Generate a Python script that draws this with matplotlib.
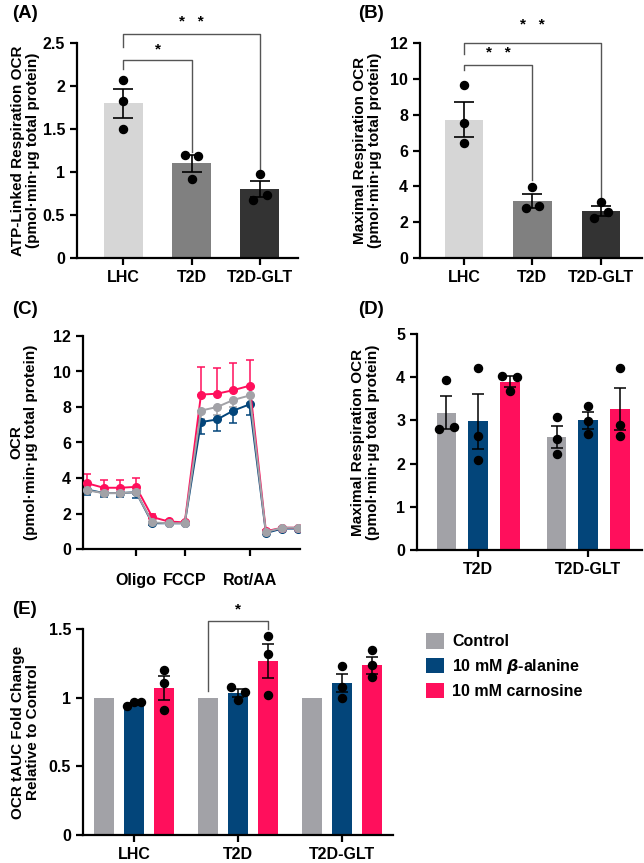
import numpy as np
import matplotlib.pyplot as plt

plt.rcParams['font.family'] = ['Liberation Sans', 'DejaVu Sans']
plt.rcParams['font.weight'] = 'bold'
plt.rcParams['axes.labelweight'] = 'bold'

# ---- data ----
groups_abc = ["LHC", "T2D", "T2D-GLT"]

atp_mean = [1.80, 1.10, 0.80]
atp_sem = [0.17, 0.095, 0.09]
atp_pts = [[2.07, 1.82, 1.50], [1.20, 1.19, 0.92], [0.98, 0.68, 0.73]]

max_mean = [7.72, 3.20, 2.63]
max_sem = [0.97, 0.40, 0.28]
max_pts = [[9.64, 7.53, 6.42], [3.96, 2.81, 2.88], [3.13, 2.23, 2.57]]

treat = ["Control", "10 mM $\\beta$-alanine", "10 mM carnosine"]
treat_col = ["#a2a2a7", "#03457a", "#ff0f5c"]

# panel C time course (14 measurements)
ocr_ctrl = [3.30, 3.15, 3.15, 3.20, 1.50, 1.45, 1.45, 7.80, 8.00, 8.40, 8.65, 0.95, 1.20, 1.20]
ocr_ctrl_err = [0.15, 0.12, 0.12, 0.12, 0.08, 0.06, 0.06, 0.45, 0.45, 0.40, 0.40, 0.05, 0.05, 0.05]
ocr_bala = [3.35, 3.15, 3.15, 3.20, 1.45, 1.45, 1.45, 7.15, 7.30, 7.80, 8.15, 0.90, 1.15, 1.15]
ocr_bala_err = [0.30, 0.20, 0.20, 0.30, 0.08, 0.06, 0.06, 0.65, 0.65, 0.70, 0.60, 0.05, 0.05, 0.05]
ocr_carn = [3.70, 3.45, 3.45, 3.50, 1.80, 1.55, 1.50, 8.70, 8.75, 8.95, 9.20, 1.00, 1.20, 1.20]
ocr_carn_err = [0.50, 0.45, 0.45, 0.50, 0.20, 0.08, 0.08, 1.55, 1.45, 1.55, 1.45, 0.05, 0.05, 0.05]
inject = ["Oligo", "FCCP", "Rot/AA"]
inject_at = [4, 7, 11]

# panel D
groups_d = ["T2D", "T2D-GLT"]
d_mean = [[3.18, 2.98, 3.90], [2.62, 3.00, 3.26]]
d_sem = [[0.38, 0.64, 0.12], [0.26, 0.20, 0.49]]
d_pts = [[[3.93, 2.79, 2.84], [4.21, 2.63, 2.09], [4.03, 4.00, 3.69]],
         [[3.09, 2.57, 2.22], [3.34, 2.98, 2.69], [4.21, 2.90, 2.65]]]

# panel E
e_mean = [[1.0, 0.955, 1.07], [1.0, 1.035, 1.265], [1.0, 1.105, 1.235]]
e_sem = [[0.0, 0.008, 0.09], [0.0, 0.03, 0.125], [0.0, 0.065, 0.06]]
e_pts = [[None, [0.94, 0.965, 0.965], [1.20, 1.11, 0.91]],
         [None, [1.08, 1.04, 0.985], [1.45, 1.32, 1.02]],
         [None, [1.23, 1.08, 1.00], [1.35, 1.24, 1.15]]]

# scatter spread (-1 left, 0 centre, 1 right) for overlapping dots
spread_a = [[0, 0, 0], [-1, 1, 0], [0, -1, 1]]
spread_b = [[0, 0, 0], [0, -1, 1], [0, -1, 1]]
spread_d = [[[0, -1, 1], [0, 0, 0], [-1, 1, 0]], [[0, 0, 0], [0, 0, 0], [0, 0, 0]]]
spread_e = [[None, [-1, 0, 1], [0, 0, 0]], [None, [-1, 1, 0], [0, 0, 0]], [None, [0, 0, 0], [0, 0, 0]]]

W, H = 644, 863
fig = plt.figure(figsize=(W / 100, H / 100), dpi=100)


def add_ax(l, t, r, b):
    return fig.add_axes([l / W, 1 - b / H, (r - l) / W, (b - t) / H])


def style(ax):
    for s in ["top", "right"]:
        ax.spines[s].set_visible(False)
    for s in ["left", "bottom"]:
        ax.spines[s].set_linewidth(1.6)
    ax.tick_params(width=1.6, length=5, labelsize=11.5)
    for lab in ax.get_xticklabels() + ax.get_yticklabels():
        lab.set_fontweight("bold")


def dots(ax, x, pts, spread, step):
    for v, s in zip(pts, spread):
        ax.plot(x + s * step, v, "o", color="black", ms=5.8, zorder=5)


def bracket(ax, x1, x2, y, yl, yr, text, ty):
    ax.plot([x1, x1, x2, x2], [yl, y, y, yr], color="#555555", lw=1.0, clip_on=False)
    ax.text((x1 + x2) / 2, ty, text, ha="center", va="center", fontsize=11, clip_on=False)


ylab_units = "(pmol·min·µg total protein)"
ylab_kw = dict(fontsize=11, linespacing=1.1)

# ---- (A) ----
axA = add_ax(77, 43, 298, 258)
colsA = ["#d6d6d6", "#808080", "#333333"]
for i in range(3):
    axA.bar(i, atp_mean[i], 0.57, color=colsA[i], zorder=1)
    axA.errorbar(i, atp_mean[i], yerr=atp_sem[i], color="black", capsize=7, lw=1.2, capthick=1.2, zorder=4)
    dots(axA, i, atp_pts[i], spread_a[i], 0.1)
axA.set_xlim(-0.68, 2.56)
axA.set_ylim(0, 2.5)
axA.set_yticks([0, 0.5, 1, 1.5, 2, 2.5])
axA.set_yticklabels(["0", "0.5", "1", "1.5", "2", "2.5"])
axA.set_xticks(range(3))
axA.set_xticklabels(groups_abc)
axA.set_ylabel("ATP-Linked Respiration OCR\n" + ylab_units, **ylab_kw)
axA.yaxis.set_label_coords(-0.167, 0.5)
style(axA)
bracket(axA, 0, 2, 2.61, 2.45, 1.0, "*   *", 2.75)
bracket(axA, 0, 1, 2.30, 2.20, 1.23, "*", 2.43)

# ---- (B) ----
axB = add_ax(420, 43, 642, 258)
for i in range(3):
    axB.bar(i, max_mean[i], 0.56, color=colsA[i], zorder=1)
    axB.errorbar(i, max_mean[i], yerr=max_sem[i], color="black", capsize=7, lw=1.2, capthick=1.2, zorder=4)
    dots(axB, i, max_pts[i], spread_b[i], 0.1)
axB.set_xlim(-0.64, 2.6)
axB.set_ylim(0, 12)
axB.set_yticks(range(0, 13, 2))
axB.set_xticks(range(3))
axB.set_xticklabels(groups_abc)
axB.set_ylabel("Maximal Respiration OCR\n" + ylab_units, **ylab_kw)
axB.yaxis.set_label_coords(-0.171, 0.5)
style(axB)
bracket(axB, 0, 2, 12.0, 11.4, 3.4, "*   *", 13.0)
bracket(axB, 0, 1, 10.75, 10.47, 4.33, "*   *", 11.46)

# ---- (C) ----
axC = add_ax(83, 336, 300, 549)
t = np.arange(1, len(ocr_ctrl) + 1)
series = [(ocr_bala, ocr_bala_err, treat_col[1], -1),
          (ocr_carn, ocr_carn_err, treat_col[2], 1),
          (ocr_ctrl, ocr_ctrl_err, treat_col[0], -1)]
for vals, err, col, sgn in series:
    vals = np.array(vals)
    err = np.array(err)
    lo = err if sgn < 0 else np.zeros_like(err)
    hi = err if sgn > 0 else np.zeros_like(err)
    axC.errorbar(t, vals, yerr=[lo, hi], fmt="none", ecolor=col, capsize=3, lw=1.1, capthick=1.1, zorder=2)
    axC.plot(t, vals, "-o", color=col, ms=5.5, lw=1.4, zorder=3)
axC.set_xlim(0.73, 14.1)
axC.set_ylim(0, 12)
axC.set_yticks(range(0, 13, 2))
axC.set_xticks(inject_at)
axC.set_xticklabels(inject)
axC.set_ylabel("OCR\n" + ylab_units, **ylab_kw)
axC.yaxis.set_label_coords(-0.207, 0.5)
style(axC)
axC.tick_params(axis="x", pad=12)

# ---- (D) ----
axD = add_ax(417, 334, 642, 550)
off = [-0.287, 0.0, 0.287]
bwD = 0.18
for g in range(2):
    for k in range(3):
        x = g + off[k]
        axD.bar(x, d_mean[g][k], bwD, color=treat_col[k], zorder=1)
        axD.errorbar(x, d_mean[g][k], yerr=d_sem[g][k], color="black", capsize=4.5, lw=1.1, capthick=1.1, zorder=4)
        dots(axD, x, d_pts[g][k], spread_d[g][k], 0.065)
axD.set_xlim(-0.555, 1.49)
axD.set_ylim(0, 5)
axD.set_yticks(range(0, 6))
axD.set_xticks(range(2))
axD.set_xticklabels(groups_d)
axD.set_ylabel("Maximal Respiration OCR\n" + ylab_units, **ylab_kw)
axD.yaxis.set_label_coords(-0.164, 0.5)
style(axD)

# ---- (E) ----
axE = add_ax(83, 629, 393, 835)
offE = [-0.29, 0.0, 0.29]
bwE = 0.19
for g in range(3):
    for k in range(3):
        x = g + offE[k]
        axE.bar(x, e_mean[g][k], bwE, color=treat_col[k], zorder=1, label=treat[k] if g == 0 else None)
        if e_pts[g][k] is not None:
            axE.errorbar(x, e_mean[g][k], yerr=e_sem[g][k], color="black", capsize=4.5, lw=1.1, capthick=1.1, zorder=4)
            dots(axE, x, e_pts[g][k], spread_e[g][k], 0.067)
axE.set_xlim(-0.49, 2.49)
axE.set_ylim(0, 1.5)
axE.set_yticks([0, 0.5, 1, 1.5])
axE.set_yticklabels(["0", "0.5", "1", "1.5"])
axE.set_xticks(range(3))
axE.set_xticklabels(groups_abc)
axE.set_ylabel("OCR tAUC Fold Change\nRelative to Control", **ylab_kw)
axE.yaxis.set_label_coords(-0.139, 0.5)
style(axE)
bracket(axE, 1 + offE[0], 1 + offE[2], 1.557, 1.05, 1.50, "*", 1.645)

leg = fig.legend(loc="upper left", bbox_to_anchor=(412 / W, 1 - 619 / H), frameon=False,
                 handlelength=1.1, handleheight=1.1, handletextpad=0.5,
                 labelspacing=0.45, prop={"weight": "bold", "size": 11.5})

# panel letters
for lab, x, y in [("(A)", 12, 14), ("(B)", 358, 14), ("(C)", 12, 310), ("(D)", 358, 310), ("(E)", 12, 609)]:
    fig.text(x / W, 1 - y / H, lab, fontsize=13.5, fontweight="bold", va="center", ha="left")

fig.savefig("out.png", dpi=100)
